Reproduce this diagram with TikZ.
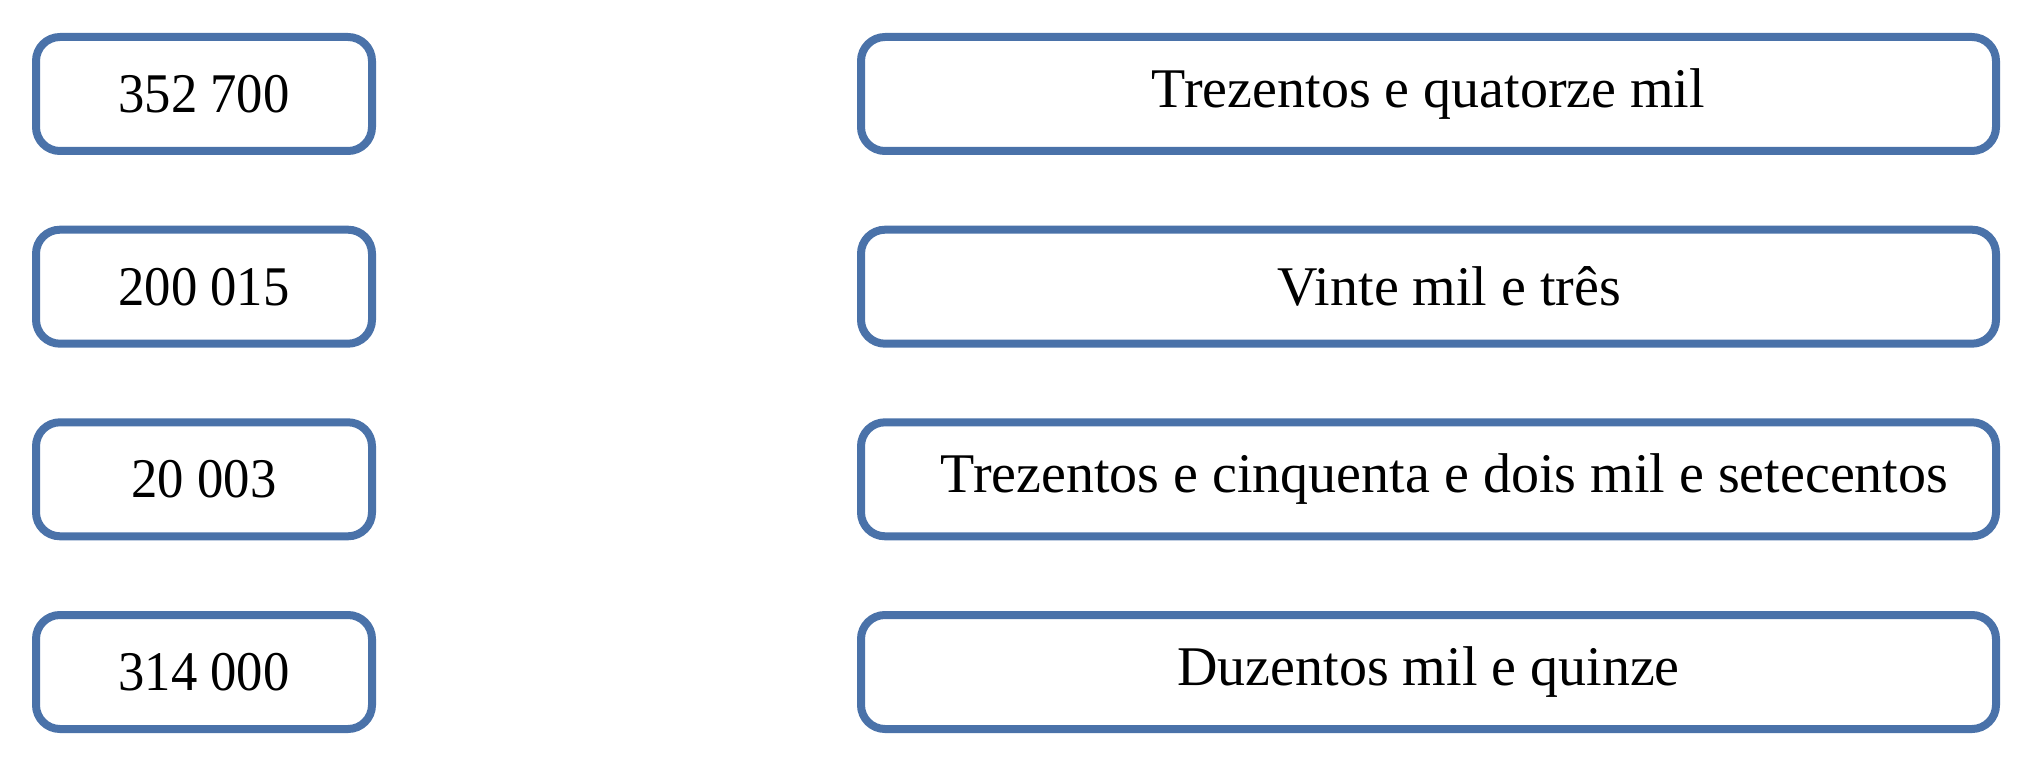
\documentclass[tikz,border=0pt]{standalone}
\usepackage{fontspec}
\setmainfont{Liberation Serif}
\newfontfamily\numfont[FakeStretch=0.94]{Liberation Serif}
\definecolor{boxblue}{RGB}{74,114,169}
\begin{document}
\begin{tikzpicture}[x=1pt,y=-1pt,
  wordbox/.style={draw=boxblue,line width=8pt,rounded corners=24pt,minimum width=1135pt,minimum height=114pt,inner sep=0pt,font=\fontsize{56}{60}\selectfont},
  numbox/.style={wordbox,minimum width=336pt,font=\numfont\fontsize{56}{60}\selectfont}]
\useasboundingbox (0,0) rectangle (2035,781);
\node[numbox] (n1) at (204,94) {352 700};
\node[numbox] (n2) at (204,286.7) {200 015};
\node[numbox] (n3) at (204,479.3) {20 003};
\node[numbox] (n4) at (204,672) {314 000};
\node[wordbox] (w1) at (1428.5,94) {Trezentos e quatorze mil};
\node[wordbox] (w2) at (1428.5,286.7) {\hspace*{42pt}Vinte mil e três};
\node[wordbox] (w3) at (1428.5,479.3) {\hspace*{32pt}Trezentos e cinquenta e dois mil e setecentos};
\node[wordbox] (w4) at (1428.5,672) {Duzentos mil e quinze};
\end{tikzpicture}
\end{document}
